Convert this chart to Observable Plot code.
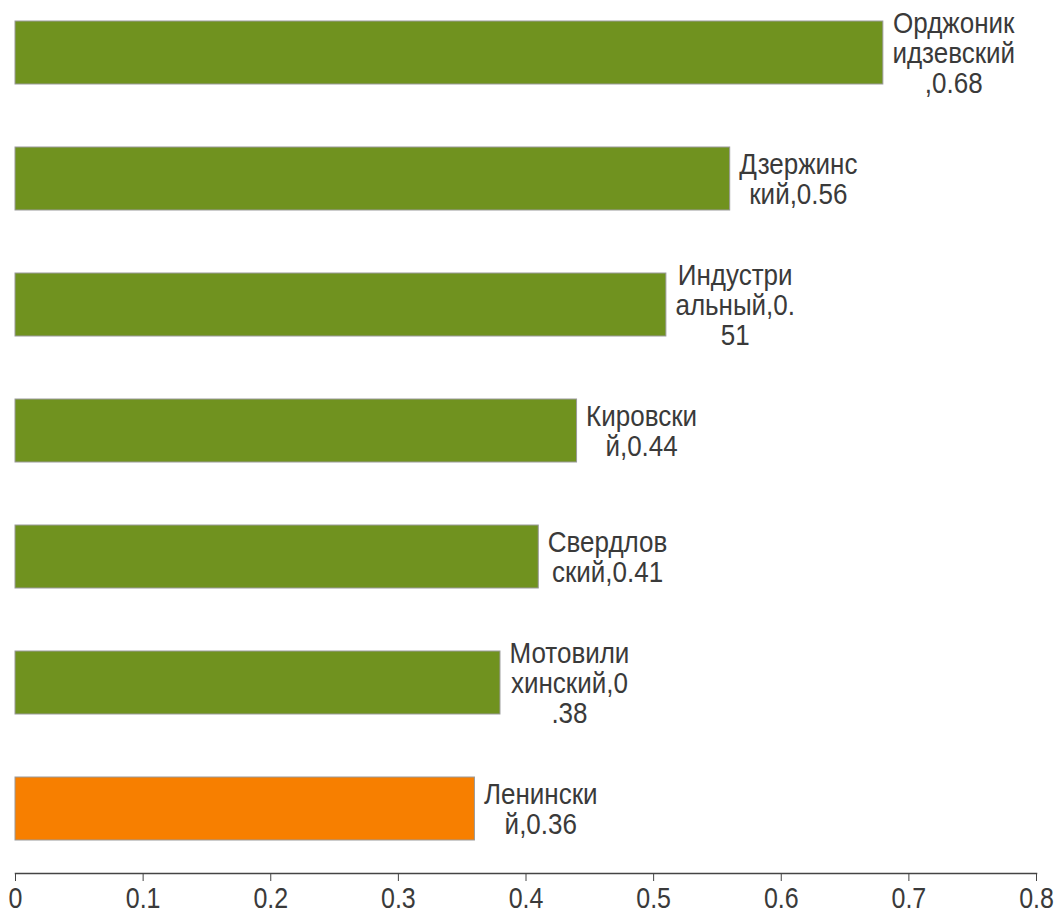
<!DOCTYPE html>
<html>
<head>
<meta charset="utf-8">
<script src="https://cdn.jsdelivr.net/npm/d3@7"></script>
<script src="https://cdn.jsdelivr.net/npm/@observablehq/plot@0.6"></script>
<style>
  html, body { margin: 0; padding: 0; background: #fff; }
  svg { display: block; }
</style>
</head>
<body>
<div id="chart"></div>
<script>
// Districts (top to bottom) and their values
const districts = ["Орджоникидзевский", "Дзержинский", "Индустриальный", "Кировский", "Свердловский", "Мотовилихинский", "Ленинский"];
const values = [0.68, 0.56, 0.51, 0.44, 0.41, 0.38, 0.36];
// Wrapped label text as shown in the chart
const labels = [
  "Орджоник\nидзевский\n,0.68",
  "Дзержинс\nкий,0.56",
  "Индустри\nальный,0.\n51",
  "Кировски\nй,0.44",
  "Свердлов\nский,0.41",
  "Мотовили\nхинский,0\n.38",
  "Ленински\nй,0.36"
];
const highlighted = ["Ленинский"];
const xTicks = [0, 0.1, 0.2, 0.3, 0.4, 0.5, 0.6, 0.7, 0.8];

const GREEN = "#70921f";
const ORANGE = "#f77f00";
const FONT = "'Liberation Sans', Arial, sans-serif";
const LABEL_SIZE = 26;
const STRETCH = 1.16; // the reference text is slightly tall/narrow

const data = districts.map((name, i) => ({
  name,
  value: values[i],
  label: labels[i],
  color: highlighted.includes(name) ? ORANGE : GREEN
}));

const ctx = document.createElement("canvas").getContext("2d");
ctx.font = `${LABEL_SIZE}px ${FONT}`;
const blockWidth = (s) => Math.max(...s.split("\n").map(l => ctx.measureText(l).width));

const textMarks = data.map(d => Plot.text([d], {
  x: "value",
  y: "name",
  text: "label",
  textAnchor: "middle",
  lineHeight: 30 / STRETCH / LABEL_SIZE,
  fontSize: LABEL_SIZE,
  fill: "#3a3a3a",
  dx: 9 + blockWidth(d.label) / 2
}));

const chart = Plot.plot({
  width: 1056,
  height: 913,
  marginTop: 0,
  marginLeft: 15,
  marginRight: 20,
  marginBottom: 40,
  style: { fontFamily: FONT, background: "#fff", overflow: "visible" },
  x: { domain: [0, 0.8] },
  y: { domain: districts, range: [20, 840], paddingInner: 0.5, paddingOuter: 0, axis: null },
  marks: [
    Plot.barX(data, { x: "value", y: "name", fill: "color", stroke: "#9a9a9a", strokeWidth: 1 }),
    ...textMarks,
    Plot.frame({ anchor: "bottom", stroke: "#444", strokeWidth: 1.5 }),
    Plot.axisX({
      ticks: xTicks,
      tickSize: 8,
      tickPadding: 6,
      tickFormat: d => String(+d.toFixed(1)),
      fontSize: 25,
      color: "#3a3a3a",
      stroke: "#444",
      label: null
    })
  ]
});

// stretch all text vertically about its own anchor point
chart.querySelectorAll("text").forEach(t => {
  const tr = t.getAttribute("transform") || "";
  t.setAttribute("transform", `${tr} scale(1,${STRETCH})`);
});
document.getElementById("chart").appendChild(chart);
</script>
</body>
</html>
